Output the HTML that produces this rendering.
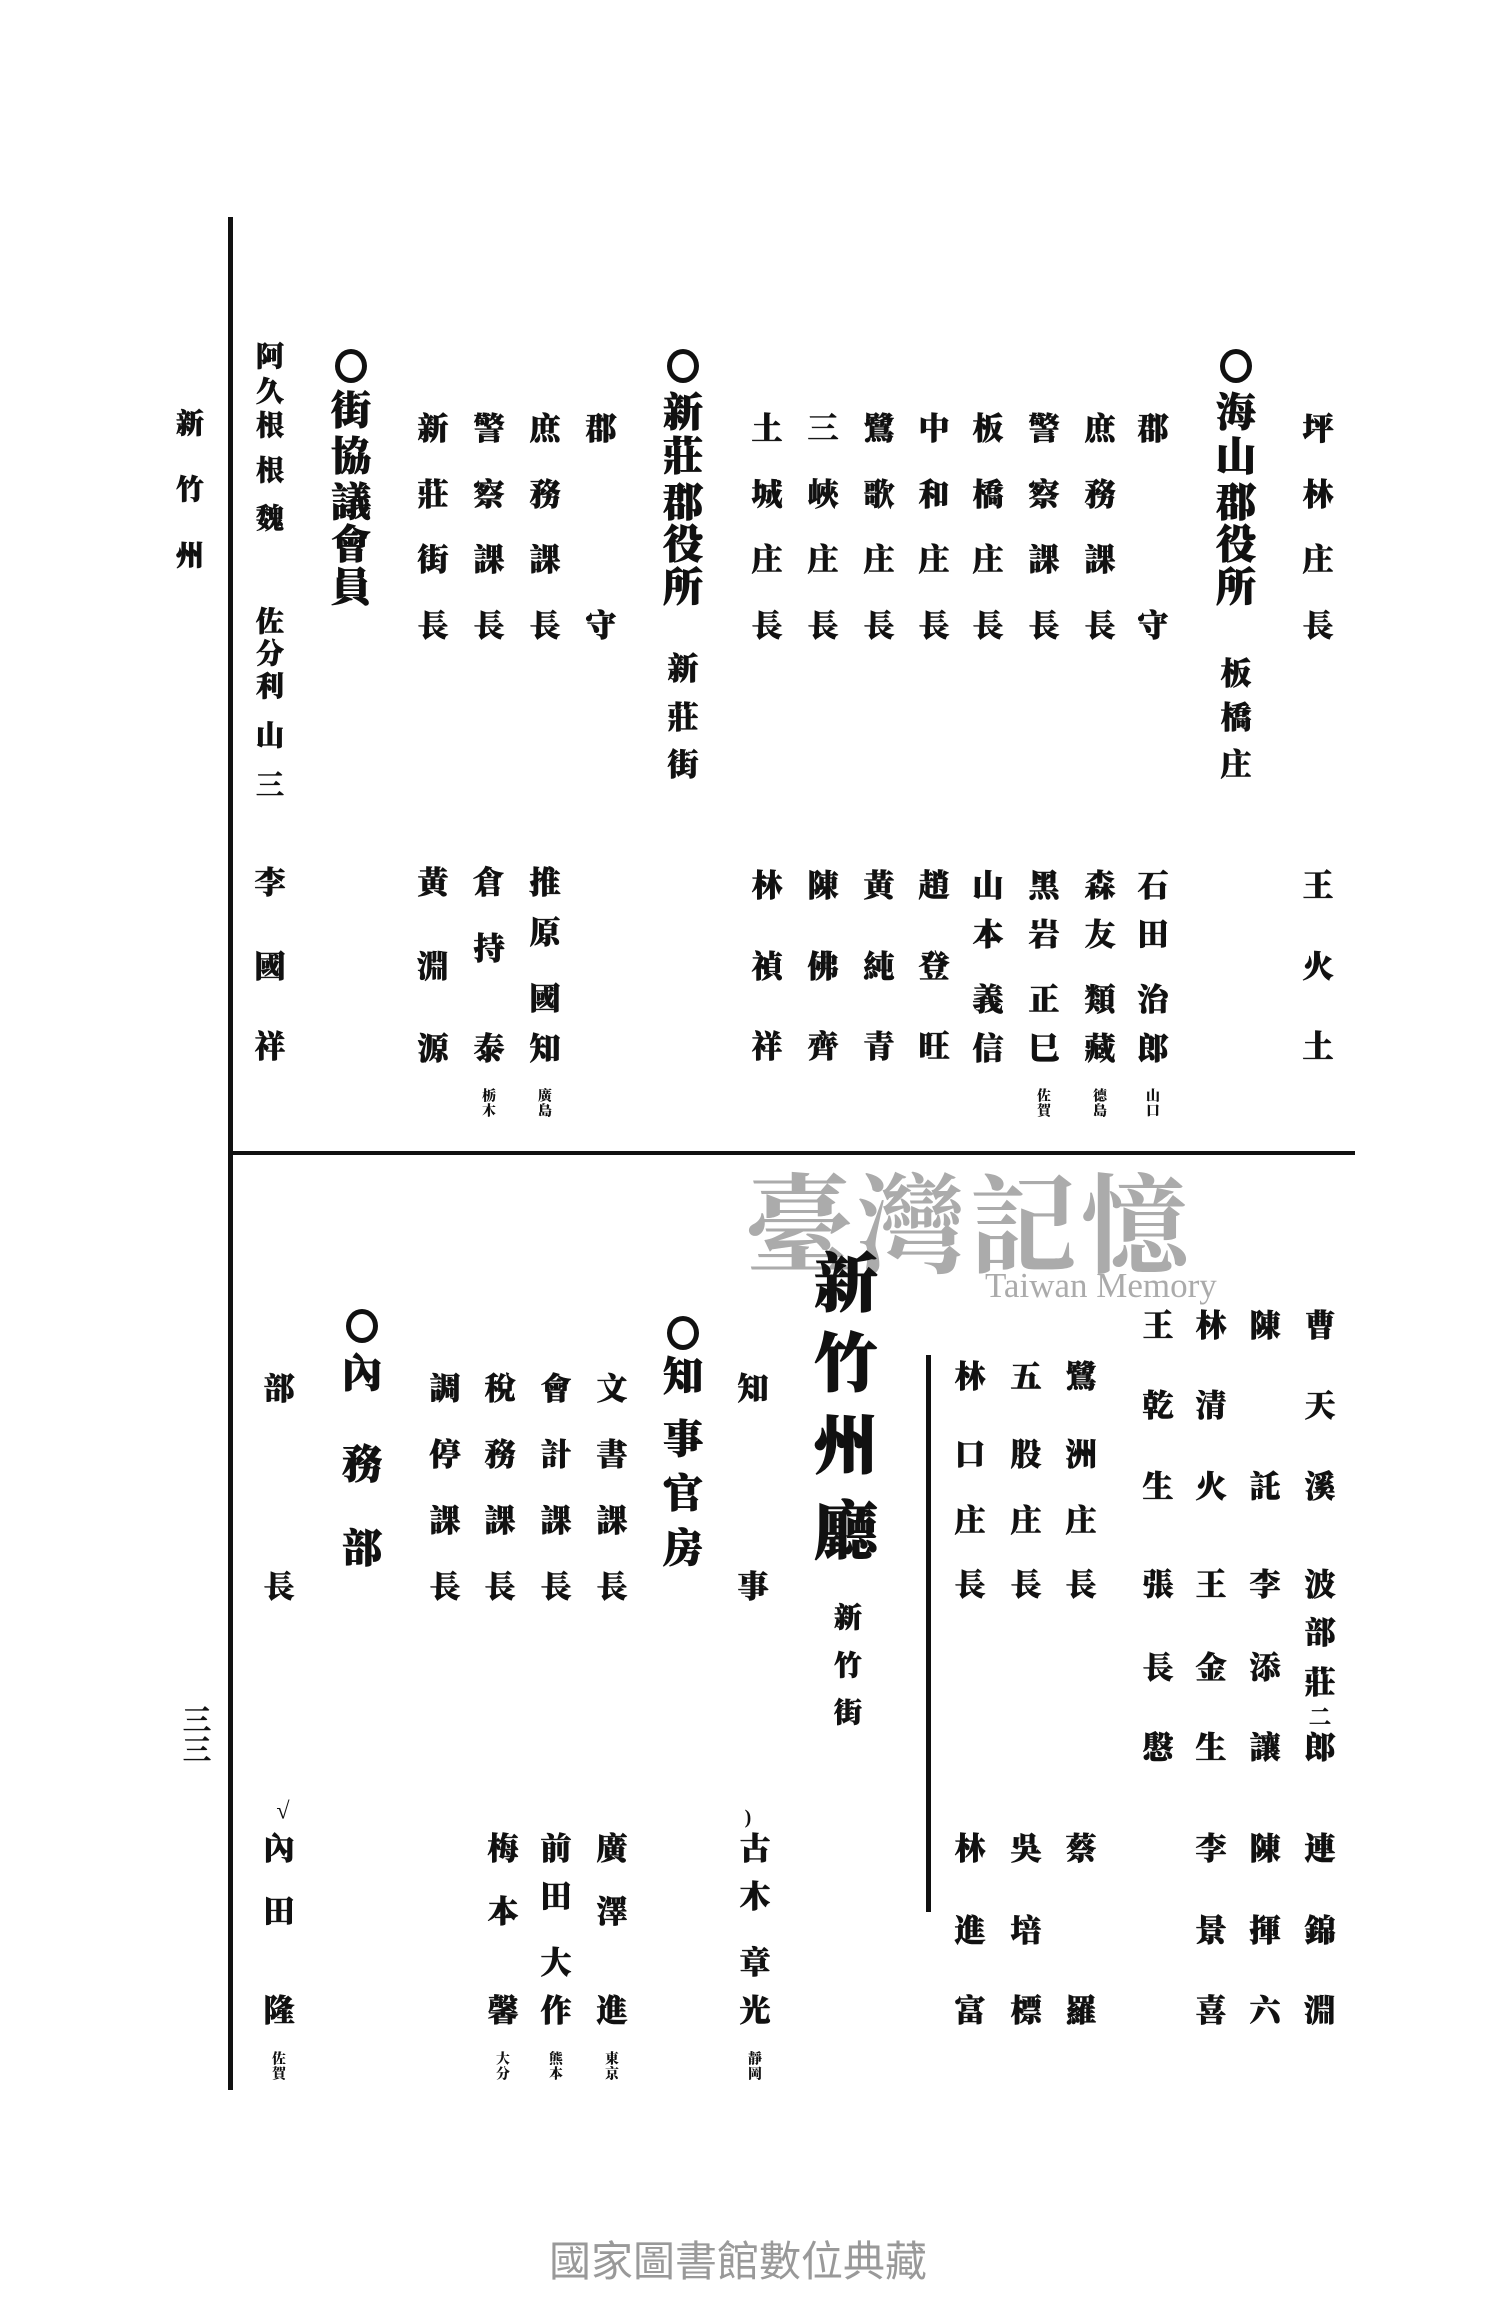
<!DOCTYPE html>
<html><head><meta charset="utf-8"><style>
html,body{margin:0;padding:0;background:#fff}
#p{position:relative;width:1500px;height:2300px;overflow:hidden;background:#fff;font-family:"Liberation Serif","Noto Serif CJK SC","Noto Sans CJK TC",serif;color:#111;font-weight:900}
#p i{position:absolute;font-style:normal;transform:translate(-50%,-50%);line-height:1;font-size:31px;white-space:nowrap;-webkit-text-stroke:0.6px #111}
#p i.h{font-size:40px;-webkit-text-stroke:0.8px #111}
#p i.s{font-size:14px;line-height:1.05;text-align:center;-webkit-text-stroke:0}
#p i.m{font-size:28px}
#p i.b{font-size:64px;-webkit-text-stroke:1px #111}
#p b.o{position:absolute;width:22px;height:24px;border:5px solid #111;border-radius:50%;transform:translate(-50%,-50%)}
.ln{position:absolute;background:#111}
.wm{position:absolute;color:#ababab;font-weight:normal}
</style></head><body><div id="p">
<div class="ln" style="left:228px;top:217px;width:5px;height:1873px"></div>
<div class="ln" style="left:230px;top:1151px;width:1125px;height:4px"></div>
<div class="ln" style="left:926px;top:1355px;width:5px;height:557px"></div>

<div class="wm" style="left:745px;top:1140px;font-size:108px;font-family:'Noto Serif CJK SC',serif;letter-spacing:4px;font-weight:bold">臺灣記憶</div>
<div class="wm" style="left:985px;top:1266px;font-size:35px;font-family:'Liberation Serif',serif">Taiwan Memory</div>
<div class="wm" style="left:549px;top:2228px;font-size:42px;font-family:'Noto Sans CJK TC',sans-serif;color:#999">國家圖書館數位典藏</div>

<!-- top section -->
<i class="m" style="left:190px;top:425px">新</i><i class="m" style="left:190px;top:491px">竹</i><i class="m" style="left:190px;top:557px">州</i>

<i style="left:1318px;top:429px">坪</i><i style="left:1318px;top:495px">林</i><i style="left:1318px;top:560px">庄</i><i style="left:1318px;top:626px">長</i>
<i style="left:1318px;top:886px">王</i><i style="left:1318px;top:967px">火</i><i style="left:1318px;top:1047px">土</i>

<b class="o" style="left:1236px;top:366px"></b>
<i class="h" style="left:1236px;top:413px">海</i><i class="h" style="left:1236px;top:457px">山</i><i class="h" style="left:1236px;top:503px">郡</i><i class="h" style="left:1236px;top:545px">役</i><i class="h" style="left:1236px;top:588px">所</i>
<i style="left:1236px;top:674px">板</i><i style="left:1236px;top:718px">橋</i><i style="left:1236px;top:765px">庄</i>

<i style="left:1153px;top:429px">郡</i><i style="left:1153px;top:626px">守</i>
<i style="left:1153px;top:886px">石</i><i style="left:1153px;top:935px">田</i><i style="left:1153px;top:1000px">治</i><i style="left:1153px;top:1049px">郎</i><i class="s" style="left:1153px;top:1105px">山<br>口</i>

<i style="left:1100px;top:429px">庶</i><i style="left:1100px;top:495px">務</i><i style="left:1100px;top:560px">課</i><i style="left:1100px;top:626px">長</i>
<i style="left:1100px;top:886px">森</i><i style="left:1100px;top:935px">友</i><i style="left:1100px;top:1000px">類</i><i style="left:1100px;top:1049px">藏</i><i class="s" style="left:1100px;top:1105px">德<br>島</i>

<i style="left:1044px;top:429px">警</i><i style="left:1044px;top:495px">察</i><i style="left:1044px;top:560px">課</i><i style="left:1044px;top:626px">長</i>
<i style="left:1044px;top:886px">黑</i><i style="left:1044px;top:935px">岩</i><i style="left:1044px;top:1000px">正</i><i style="left:1044px;top:1049px">巳</i><i class="s" style="left:1044px;top:1105px">佐<br>賀</i>

<i style="left:988px;top:429px">板</i><i style="left:988px;top:495px">橋</i><i style="left:988px;top:560px">庄</i><i style="left:988px;top:626px">長</i>
<i style="left:988px;top:886px">山</i><i style="left:988px;top:935px">本</i><i style="left:988px;top:1000px">義</i><i style="left:988px;top:1049px">信</i>

<i style="left:934px;top:429px">中</i><i style="left:934px;top:495px">和</i><i style="left:934px;top:560px">庄</i><i style="left:934px;top:626px">長</i>
<i style="left:934px;top:886px">趙</i><i style="left:934px;top:967px">登</i><i style="left:934px;top:1047px">旺</i>

<i style="left:879px;top:429px">鷺</i><i style="left:879px;top:495px">歌</i><i style="left:879px;top:560px">庄</i><i style="left:879px;top:626px">長</i>
<i style="left:879px;top:886px">黃</i><i style="left:879px;top:967px">純</i><i style="left:879px;top:1047px">青</i>

<i style="left:823px;top:429px">三</i><i style="left:823px;top:495px">峽</i><i style="left:823px;top:560px">庄</i><i style="left:823px;top:626px">長</i>
<i style="left:823px;top:886px">陳</i><i style="left:823px;top:967px">佛</i><i style="left:823px;top:1047px">齊</i>

<i style="left:767px;top:429px">土</i><i style="left:767px;top:495px">城</i><i style="left:767px;top:560px">庄</i><i style="left:767px;top:626px">長</i>
<i style="left:767px;top:886px">林</i><i style="left:767px;top:967px">禎</i><i style="left:767px;top:1047px">祥</i>

<b class="o" style="left:683px;top:366px"></b>
<i class="h" style="left:683px;top:413px">新</i><i class="h" style="left:683px;top:457px">莊</i><i class="h" style="left:683px;top:503px">郡</i><i class="h" style="left:683px;top:545px">役</i><i class="h" style="left:683px;top:588px">所</i>
<i style="left:683px;top:669px">新</i><i style="left:683px;top:718px">莊</i><i style="left:683px;top:765px">街</i>

<i style="left:601px;top:429px">郡</i><i style="left:601px;top:626px">守</i>
<i style="left:545px;top:429px">庶</i><i style="left:545px;top:495px">務</i><i style="left:545px;top:560px">課</i><i style="left:545px;top:626px">長</i>
<i style="left:545px;top:883px">推</i><i style="left:545px;top:933px">原</i><i style="left:545px;top:999px">國</i><i style="left:545px;top:1049px">知</i><i class="s" style="left:545px;top:1105px">廣<br>島</i>
<i style="left:489px;top:429px">警</i><i style="left:489px;top:495px">察</i><i style="left:489px;top:560px">課</i><i style="left:489px;top:626px">長</i>
<i style="left:489px;top:883px">倉</i><i style="left:489px;top:949px">持</i><i style="left:489px;top:1049px">泰</i><i class="s" style="left:489px;top:1105px">栃<br>木</i>
<i style="left:433px;top:429px">新</i><i style="left:433px;top:495px">莊</i><i style="left:433px;top:560px">街</i><i style="left:433px;top:626px">長</i>
<i style="left:433px;top:883px">黃</i><i style="left:433px;top:967px">淵</i><i style="left:433px;top:1049px">源</i>

<b class="o" style="left:351px;top:366px"></b>
<i class="h" style="left:351px;top:411px">街</i><i class="h" style="left:351px;top:457px">協</i><i class="h" style="left:351px;top:503px">議</i><i class="h" style="left:351px;top:545px">會</i><i class="h" style="left:351px;top:588px">員</i>

<i class="m" style="left:270px;top:358px">阿</i><i class="m" style="left:270px;top:393px">久</i><i class="m" style="left:270px;top:427px">根</i><i class="m" style="left:270px;top:472px">根</i><i class="m" style="left:270px;top:520px">魏</i>
<i class="m" style="left:270px;top:623px">佐</i><i class="m" style="left:270px;top:655px">分</i><i class="m" style="left:270px;top:688px">利</i><i class="m" style="left:270px;top:737px">山</i><i class="m" style="left:270px;top:787px">三</i>
<i style="left:270px;top:883px">李</i><i style="left:270px;top:967px">國</i><i style="left:270px;top:1047px">祥</i>

<!-- bottom section -->
<i style="left:1320px;top:1326px">曹</i><i style="left:1320px;top:1406px">天</i><i style="left:1320px;top:1487px">溪</i><i style="left:1320px;top:1585px">波</i><i style="left:1320px;top:1633px">部</i><i style="left:1320px;top:1683px">莊</i><i class="m" style="left:1320px;top:1718px;font-size:22px">二</i><i style="left:1320px;top:1748px">郎</i>
<i style="left:1320px;top:1849px">連</i><i style="left:1320px;top:1931px">錦</i><i style="left:1320px;top:2011px">淵</i>

<i style="left:1265px;top:1326px">陳</i><i style="left:1265px;top:1487px">託</i><i style="left:1265px;top:1585px">李</i><i style="left:1265px;top:1668px">添</i><i style="left:1265px;top:1748px">讓</i>
<i style="left:1265px;top:1849px">陳</i><i style="left:1265px;top:1931px">揮</i><i style="left:1265px;top:2011px">六</i>

<i style="left:1211px;top:1326px">林</i><i style="left:1211px;top:1406px">清</i><i style="left:1211px;top:1487px">火</i><i style="left:1211px;top:1585px">王</i><i style="left:1211px;top:1668px">金</i><i style="left:1211px;top:1748px">生</i>
<i style="left:1211px;top:1849px">李</i><i style="left:1211px;top:1931px">景</i><i style="left:1211px;top:2011px">喜</i>

<i style="left:1158px;top:1326px">王</i><i style="left:1158px;top:1406px">乾</i><i style="left:1158px;top:1487px">生</i><i style="left:1158px;top:1585px">張</i><i style="left:1158px;top:1668px">長</i><i style="left:1158px;top:1748px">慇</i>

<i style="left:1081px;top:1377px">鷺</i><i style="left:1081px;top:1455px">洲</i><i style="left:1081px;top:1521px">庄</i><i style="left:1081px;top:1585px">長</i>
<i style="left:1081px;top:1849px">蔡</i><i style="left:1081px;top:2011px">羅</i>
<i style="left:1026px;top:1377px">五</i><i style="left:1026px;top:1455px">股</i><i style="left:1026px;top:1521px">庄</i><i style="left:1026px;top:1585px">長</i>
<i style="left:1026px;top:1849px">吳</i><i style="left:1026px;top:1931px">培</i><i style="left:1026px;top:2011px">標</i>
<i style="left:970px;top:1377px">林</i><i style="left:970px;top:1455px">口</i><i style="left:970px;top:1521px">庄</i><i style="left:970px;top:1585px">長</i>
<i style="left:970px;top:1849px">林</i><i style="left:970px;top:1931px">進</i><i style="left:970px;top:2011px">富</i>

<i class="b" style="left:846px;top:1285px">新</i><i class="b" style="left:846px;top:1365px">竹</i><i class="b" style="left:846px;top:1447px">州</i><i class="b" style="left:846px;top:1533px">廳</i>
<i class="m" style="left:848px;top:1619px">新</i><i class="m" style="left:848px;top:1667px">竹</i><i class="m" style="left:848px;top:1714px">街</i>

<i style="left:753px;top:1389px">知</i><i style="left:753px;top:1587px">事</i>
<i class="s" style="left:748px;top:1818px;font-size:20px">)</i>
<i style="left:755px;top:1849px">古</i><i style="left:755px;top:1897px">木</i><i style="left:755px;top:1963px">章</i><i style="left:755px;top:2011px">光</i><i class="s" style="left:755px;top:2068px">靜<br>岡</i>

<b class="o" style="left:683px;top:1333px"></b>
<i class="h" style="left:683px;top:1377px">知</i><i class="h" style="left:683px;top:1440px">事</i><i class="h" style="left:683px;top:1494px">官</i><i class="h" style="left:683px;top:1549px">房</i>

<i style="left:612px;top:1389px">文</i><i style="left:612px;top:1455px">書</i><i style="left:612px;top:1521px">課</i><i style="left:612px;top:1587px">長</i>
<i style="left:612px;top:1849px">廣</i><i style="left:612px;top:1912px">澤</i><i style="left:612px;top:2011px">進</i><i class="s" style="left:612px;top:2068px">東<br>京</i>
<i style="left:556px;top:1389px">會</i><i style="left:556px;top:1455px">計</i><i style="left:556px;top:1521px">課</i><i style="left:556px;top:1587px">長</i>
<i style="left:556px;top:1849px">前</i><i style="left:556px;top:1897px">田</i><i style="left:556px;top:1963px">大</i><i style="left:556px;top:2011px">作</i><i class="s" style="left:556px;top:2068px">熊<br>本</i>
<i style="left:500px;top:1389px">稅</i><i style="left:500px;top:1455px">務</i><i style="left:500px;top:1521px">課</i><i style="left:500px;top:1587px">長</i>
<i style="left:503px;top:1849px">梅</i><i style="left:503px;top:1912px">本</i><i style="left:503px;top:2011px">馨</i><i class="s" style="left:503px;top:2068px">大<br>分</i>
<i style="left:445px;top:1389px">調</i><i style="left:445px;top:1455px">停</i><i style="left:445px;top:1521px">課</i><i style="left:445px;top:1587px">長</i>

<b class="o" style="left:362px;top:1326px"></b>
<i class="h" style="left:362px;top:1374px">內</i><i class="h" style="left:362px;top:1465px">務</i><i class="h" style="left:362px;top:1549px">部</i>

<i style="left:279px;top:1389px">部</i><i style="left:279px;top:1587px">長</i>
<i class="s" style="left:283px;top:1812px;font-size:24px">√</i>
<i style="left:279px;top:1849px">內</i><i style="left:279px;top:1912px">田</i><i style="left:279px;top:2011px">隆</i><i class="s" style="left:279px;top:2068px">佐<br>賀</i>

<i class="m" style="left:197px;top:1722px">三</i><i class="m" style="left:197px;top:1752px">三</i>
</div></body></html>
